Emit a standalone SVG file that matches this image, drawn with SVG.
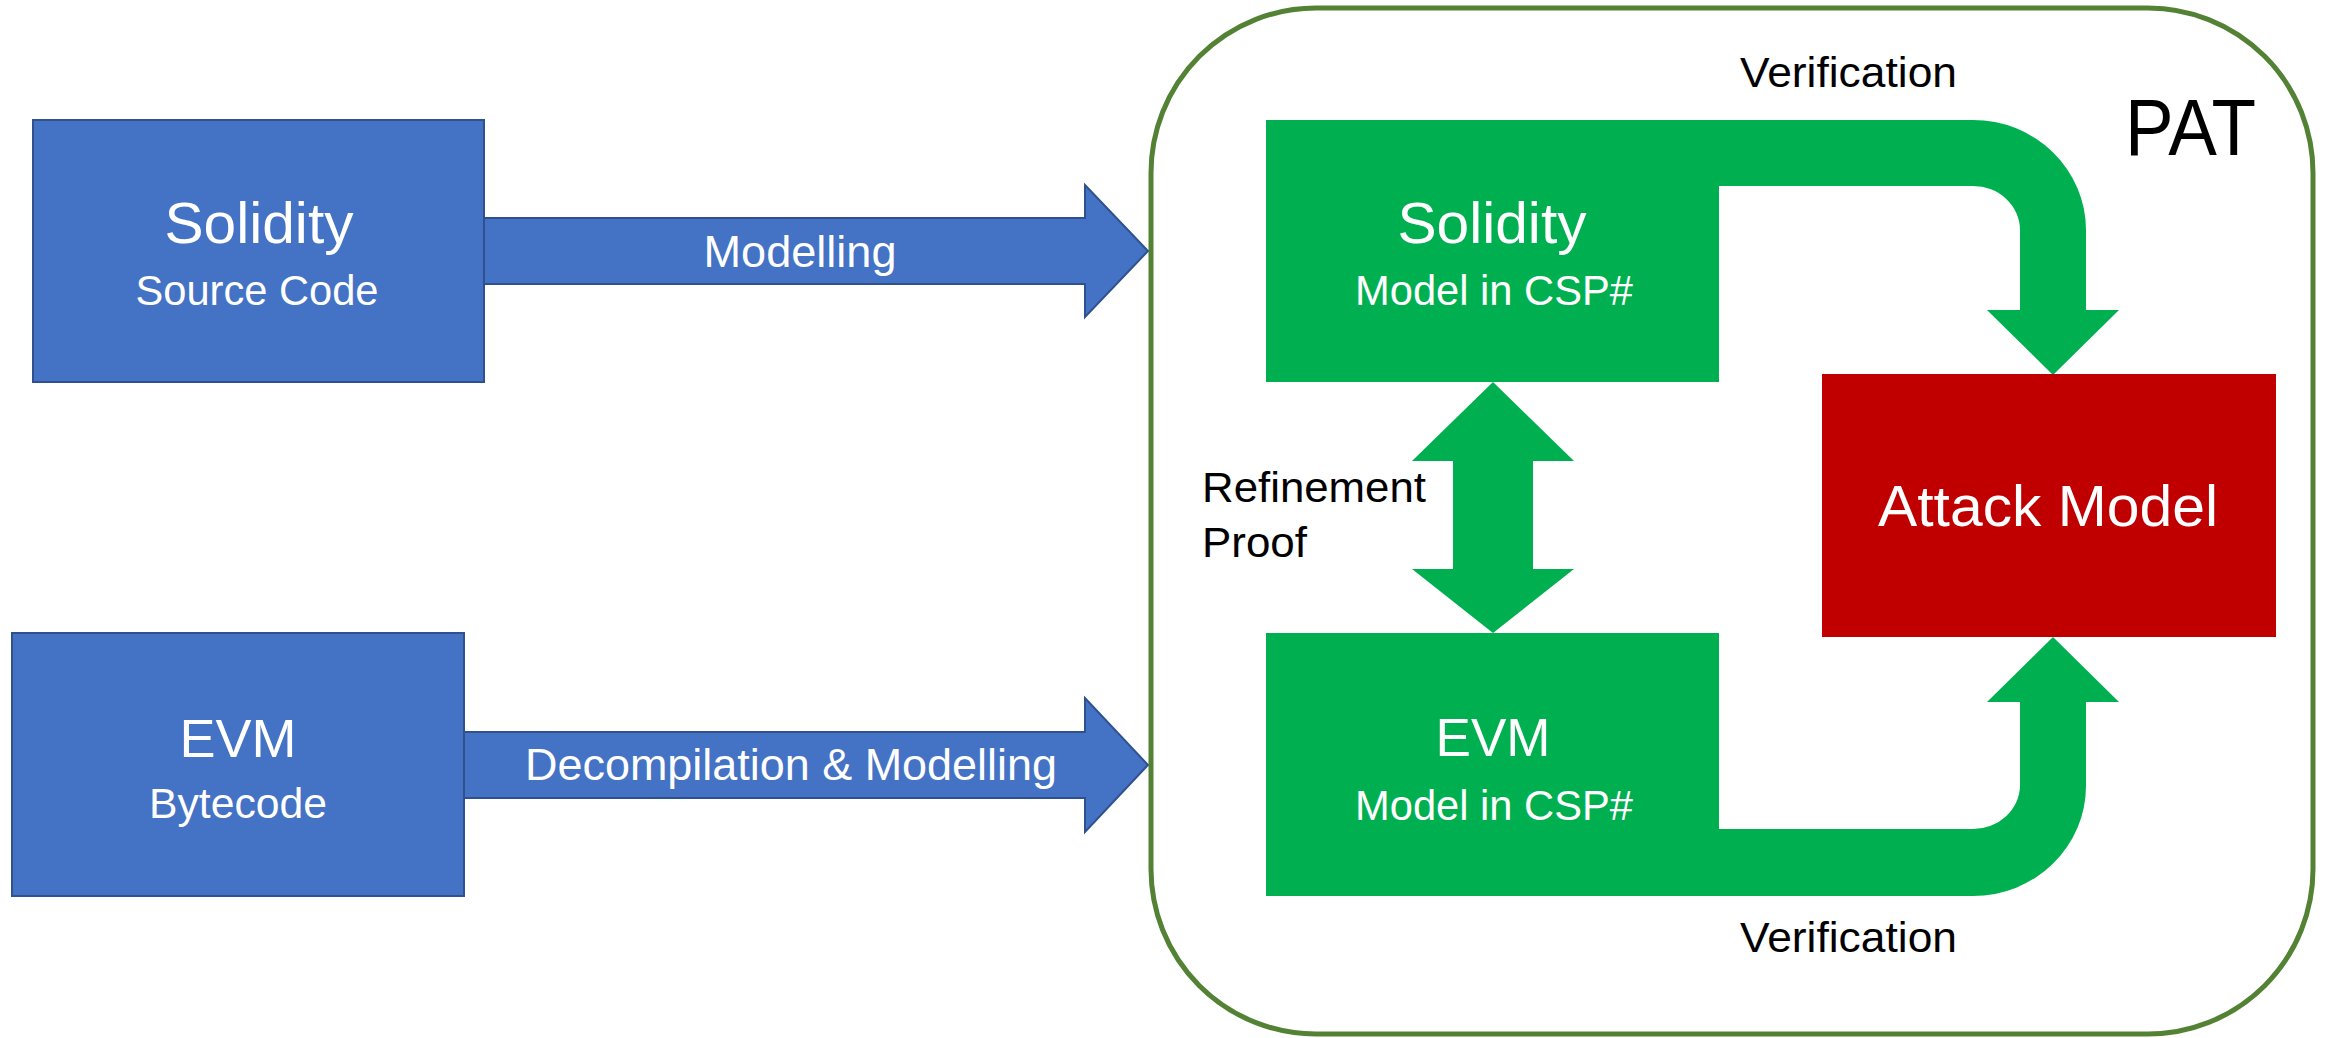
<svg xmlns="http://www.w3.org/2000/svg" width="2325" height="1038" viewBox="0 0 2325 1038">
<style>
text{font-family:"Liberation Sans",Arial,sans-serif}
.blue{fill:#4472C4;stroke:#2F528F;stroke-width:2}
.green{fill:#00B050}
.red{fill:#C00000}
.w{fill:#FFFFFF}
.k{fill:#000000}
.mid{text-anchor:middle}
</style>
<rect width="2325" height="1038" fill="#FFFFFF"/>
<g id="pat">
<rect x="1151" y="8" width="1162" height="1026" rx="165" ry="165" fill="none" stroke="#548235" stroke-width="5"/>
<text class="k" x="2125" y="155" font-size="80" textLength="131" lengthAdjust="spacingAndGlyphs">PAT</text>
</g>
<g id="connectors">
<polygon class="blue" points="484,218 1085,218 1085,185 1148,251 1085,317 1085,284 484,284"/>
<text class="w mid" x="800" y="267" font-size="44" textLength="193" lengthAdjust="spacingAndGlyphs">Modelling</text>
<polygon class="blue" points="464,732 1085,732 1085,698 1148,765 1085,832 1085,798 464,798"/>
<text class="w mid" x="791" y="780" font-size="44" textLength="532" lengthAdjust="spacingAndGlyphs">Decompilation &amp; Modelling</text>
<polygon class="green" points="1493,382 1574,461 1533,461 1533,569 1574,569 1493,633 1412,569 1453,569 1453,461 1412,461"/>
<text class="k" x="1202" y="502" font-size="43" textLength="224" lengthAdjust="spacingAndGlyphs">Refinement</text>
<text class="k" x="1202" y="557" font-size="43" textLength="105" lengthAdjust="spacingAndGlyphs">Proof</text>
<path class="green" d="M1719,120 H1973 A113,110 0 0 1 2086,230 V310 H2119 L2053,375 L1987,310 H2020 V230 A47,44 0 0 0 1973,186 H1719 Z"/>
<text class="k" x="1740" y="87" font-size="43" textLength="217" lengthAdjust="spacingAndGlyphs">Verification</text>
<path class="green" d="M1719,896 H1973 A113,110 0 0 0 2086,786 V702 H2119 L2053,637 L1987,702 H2020 V786 A47,44 0 0 1 1973,829 H1719 Z"/>
<text class="k" x="1740" y="952" font-size="43" textLength="217" lengthAdjust="spacingAndGlyphs">Verification</text>
</g>
<g id="solidity-source">
<rect class="blue" x="33" y="120" width="451" height="262"/>
<text class="w mid" x="259" y="243" font-size="57" textLength="189" lengthAdjust="spacingAndGlyphs">Solidity</text>
<text class="w mid" x="257" y="305" font-size="42" textLength="243" lengthAdjust="spacingAndGlyphs">Source Code</text>
</g>
<g id="evm-bytecode">
<rect class="blue" x="12" y="633" width="452" height="263"/>
<text class="w mid" x="238" y="757" font-size="54" textLength="117" lengthAdjust="spacingAndGlyphs">EVM</text>
<text class="w mid" x="238" y="818" font-size="42" textLength="178" lengthAdjust="spacingAndGlyphs">Bytecode</text>
</g>
<g id="solidity-model">
<rect class="green" x="1266" y="120" width="453" height="262"/>
<text class="w mid" x="1492" y="243" font-size="57" textLength="189" lengthAdjust="spacingAndGlyphs">Solidity</text>
<text class="w mid" x="1494" y="305" font-size="42" textLength="278" lengthAdjust="spacingAndGlyphs">Model in CSP#</text>
</g>
<g id="evm-model">
<rect class="green" x="1266" y="633" width="453" height="263"/>
<text class="w mid" x="1493" y="756" font-size="54" textLength="115" lengthAdjust="spacingAndGlyphs">EVM</text>
<text class="w mid" x="1494" y="820" font-size="42" textLength="278" lengthAdjust="spacingAndGlyphs">Model in CSP#</text>
</g>
<g id="attack-model">
<rect class="red" x="1822" y="374" width="454" height="263"/>
<text class="w mid" x="2048" y="526" font-size="57" textLength="340" lengthAdjust="spacingAndGlyphs">Attack Model</text>
</g>
</svg>
